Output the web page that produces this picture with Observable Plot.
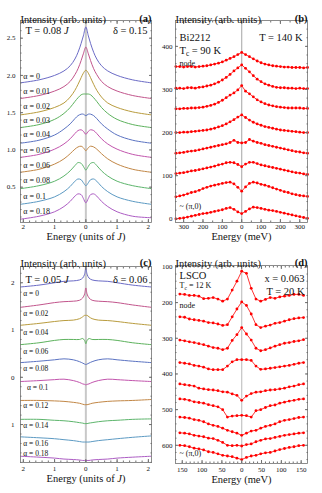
<!DOCTYPE html>
<html><head><meta charset="utf-8">
<script src="https://cdn.jsdelivr.net/npm/d3@7"></script>
<script src="https://cdn.jsdelivr.net/npm/@observablehq/plot@0.6"></script>
<style>
body{margin:0;background:#fff;}
#wrap{position:relative;width:322px;height:493px;overflow:hidden;background:#fff;}
.panel{position:absolute;}
</style></head><body><div id="wrap">
<div class="panel" id="pa" style="left:0;top:0"></div>
<div class="panel" id="pb" style="left:161px;top:0"></div>
<div class="panel" id="pc" style="left:0;top:245px"></div>
<div class="panel" id="pd" style="left:161px;top:245px"></div>
</div>
<script>
// ---------- Panel (a) data ----------
const aEnergy = [-2.1,-1.5,-1,-0.7,-0.5,-0.35,-0.25,-0.15,-0.08,0,0.08,0.15,0.25,0.35,0.5,0.7,1,1.5,2.1];
const aAlphas = ["α = 0","α = 0.01","α = 0.02","α = 0.03","α = 0.04","α = 0.05","α = 0.06","α = 0.08","α = 0.1","α = 0.18"];
const aA000 = [1.90,1.94,2.00,2.06,2.13,2.22,2.31,2.43,2.53,2.65,2.53,2.43,2.31,2.22,2.13,2.06,2.00,1.94,1.90];
const aA001 = [1.69,1.73,1.79,1.85,1.92,2.01,2.09,2.20,2.29,2.38,2.29,2.20,2.09,2.01,1.92,1.85,1.79,1.73,1.69];
const aA002 = [1.47,1.51,1.57,1.63,1.71,1.80,1.88,1.97,2.03,2.07,2.03,1.97,1.88,1.80,1.71,1.63,1.57,1.51,1.47];
const aA003 = [1.30,1.34,1.41,1.49,1.57,1.65,1.70,1.74,1.75,1.75,1.75,1.74,1.70,1.65,1.57,1.49,1.41,1.34,1.30];
const aA004 = [1.09,1.13,1.20,1.28,1.35,1.42,1.46,1.48,1.48,1.46,1.48,1.48,1.46,1.42,1.35,1.28,1.20,1.13,1.09];
const aA005 = [0.90,0.94,1.01,1.08,1.15,1.22,1.26,1.27,1.25,1.21,1.25,1.27,1.26,1.22,1.15,1.08,1.01,0.94,0.90];
const aA006 = [0.70,0.74,0.81,0.88,0.95,1.01,1.04,1.05,1.03,0.99,1.03,1.05,1.04,1.01,0.95,0.88,0.81,0.74,0.70];
const aA008 = [0.48,0.52,0.58,0.65,0.72,0.79,0.83,0.82,0.78,0.73,0.78,0.82,0.83,0.79,0.72,0.65,0.58,0.52,0.48];
const aA010 = [0.27,0.31,0.37,0.44,0.51,0.58,0.61,0.60,0.56,0.52,0.56,0.60,0.61,0.58,0.51,0.44,0.37,0.31,0.27];
const aA018 = [0.07,0.11,0.17,0.24,0.31,0.38,0.41,0.40,0.35,0.29,0.35,0.40,0.41,0.38,0.31,0.24,0.17,0.11,0.09];
const aLabelY = [1.99,1.79,1.59,1.39,1.21,0.99,0.79,0.59,0.37,0.17];
const aYTicks = [0.5,1.0,1.5,2.0,2.5];
const aXTicks = [-2,-1,0,1,2];

// ---------- Panel (b) data ----------
const bEnergy = [-340,-320,-300,-280,-260,-240,-220,-200,-180,-160,-140,-120,-100,-80,-60,-40,-20,0,20,40,60,80,100,120,140,160,180,200,220,240,260,280,300,320,340];
const bNode = [353,353,352,353,353,352,353,354,355,357,359,361,364,368,372,376,381,386,381,376,371,366,362,359,357,355,354,353,352,352,351,351,351,350,351];
const bK2 = [303,303,302,304,304,303,305,306,308,310,313,317,322,328,335,343,350,357,349,341,332,324,318,313,310,307,305,304,304,303,303,302,303,302,302];
const bK3 = [255,255,256,256,257,257,258,259,261,263,266,270,275,281,287,292,299,309,296,290,283,276,271,267,264,262,260,259,258,257,257,257,257,256,256];
const bK4 = [200,200,201,201,202,203,204,205,206,208,210,213,216,220,225,230,236,241,235,229,224,220,217,214,212,210,208,206,205,204,203,202,201,200,200];
const bK5 = [152,153,154,156,157,158,160,162,164,166,168,170,172,174,177,182,177,176,177,184,180,177,175,172,170,168,166,164,162,160,158,156,155,153,152];
const bK6 = [105,106,107,109,111,112,114,116,118,120,122,125,127,130,131,130,126,121,127,131,131,128,125,123,121,119,117,115,113,111,109,107,106,104,103];
const bK7 = [51,53,55,58,61,63,66,70,73,76,78,80,82,84,85,81,73,64,74,82,85,83,80,78,75,72,69,66,63,61,58,56,54,53,52];
const bAnti = [0,1,2,4,6,8,10,12,13,15,17,19,21,24,26,22,16,12,17,23,27,26,24,22,20,19,17,15,13,11,9,7,5,3,1];
const bYTicks = [0,100,200,300,400];
const bXTicks = [-300,-200,-100,0,100,200,300];

// ---------- Panel (c) data ----------
const cEnergy = [-2.1,-1.5,-1,-0.7,-0.4,-0.2,-0.1,-0.04,0,0.04,0.1,0.2,0.4,0.7,1,1.5,2.1];
const cAlphas = ["α = 0","α = 0.02","α = 0.04","α = 0.06","α = 0.08","α = 0.1","α = 0.12","α = 0.14","α = 0.16","α = 0.18"];
const cA000 = [1.91,1.95,2.00,2.03,2.04,2.06,2.10,2.18,2.31,2.18,2.10,2.06,2.04,2.03,2.00,1.95,1.91];
const cA002 = [1.48,1.53,1.58,1.60,1.61,1.63,1.68,1.76,1.89,1.76,1.68,1.63,1.61,1.60,1.58,1.53,1.48];
const cA004 = [1.10,1.14,1.18,1.20,1.21,1.24,1.28,1.31,1.31,1.31,1.28,1.24,1.21,1.20,1.18,1.14,1.10];
const cA006 = [0.69,0.73,0.78,0.80,0.80,0.80,0.82,0.78,0.71,0.78,0.82,0.80,0.80,0.80,0.78,0.73,0.69];
const cA008 = [0.31,0.34,0.37,0.39,0.37,0.33,0.30,0.28,0.27,0.28,0.30,0.33,0.37,0.39,0.37,0.34,0.31];
const cA010 = [-0.09,-0.07,-0.05,-0.04,-0.07,-0.11,-0.14,-0.15,-0.16,-0.15,-0.14,-0.11,-0.07,-0.04,-0.05,-0.07,-0.09];
const cA012 = [-0.49,-0.49,-0.50,-0.51,-0.53,-0.55,-0.57,-0.58,-0.58,-0.58,-0.57,-0.55,-0.53,-0.51,-0.50,-0.49,-0.47];
const cA014 = [-0.89,-0.89,-0.91,-0.92,-0.94,-0.96,-0.97,-0.98,-0.98,-0.98,-0.97,-0.96,-0.94,-0.92,-0.91,-0.89,-0.88];
const cA016 = [-1.26,-1.28,-1.30,-1.32,-1.34,-1.36,-1.37,-1.37,-1.37,-1.37,-1.37,-1.36,-1.34,-1.32,-1.30,-1.27,-1.24];
const cA018 = [-1.67,-1.69,-1.71,-1.73,-1.74,-1.75,-1.76,-1.76,-1.76,-1.76,-1.76,-1.75,-1.74,-1.73,-1.71,-1.69,-1.67];
const cLabelY = [1.78,1.345,0.945,0.534,0.183,-0.227,-0.607,-1.03,-1.40,-1.615];
const cLabelX = [-2.0,-2.0,-2.0,-2.0,-2.0,-1.88,-2.0,-2.0,-2.0,-2.0];
const cYTicks = [-1,0,1,2];
const cXTicks = [-2,-1,0,1,2];

// ---------- Panel (d) data ----------
const dEnergy = [-156,-144,-132,-120,-108,-96,-84,-72,-60,-48,-36,-24,-12,0,12,24,36,48,60,72,84,96,108,120,132,144,156];
const dNode = [176,177,180,180,182,189,188,186,190,196,190,165,140,112,118,160,190,196,191,186,188,184,182,180,177,177,180];
const dK2 = [240,241,246,248,250,252,256,257,260,264,262,240,218,198,208,232,262,270,266,263,258,256,252,248,245,243,242];
const dK3 = [305,307,310,312,315,318,322,326,328,332,328,306,290,270,288,305,328,335,332,327,322,318,314,312,309,307,304];
const dK4 = [368,370,372,376,378,381,386,388,388,388,378,366,360,360,360,362,378,387,386,384,382,380,378,376,373,370,368];
const dK5 = [428,430,432,434,440,442,444,445,447,450,451,456,460,474,462,455,451,450,447,445,444,442,440,436,434,430,428];
const dK6 = [470,471,474,478,480,482,486,489,492,500,521,518,517,516,517,521,503,500,494,489,487,482,479,476,474,471,470];
const dK7 = [521,522,524,528,530,534,540,544,547,552,558,562,566,572,566,560,558,552,547,544,540,534,530,528,525,522,521];
const dK8 = [565,566,568,572,574,576,580,581,586,592,600,601,600,602,598,596,590,586,582,581,578,575,572,570,568,566,565];
const dAnti = [600,601,604,608,610,613,618,620,624,628,630,632,636,640,634,630,628,624,621,620,616,612,609,606,604,601,600];
const dYTicks = [100,200,300,400,500,600];
const dXTicks = [-150,-100,-50,0,50,100,150];

// ---------- helpers ----------
const curveColors = ["#6b6bc6","#c2558c","#b99c3e","#5db25d","#5b73c2","#c255ad","#c28746","#5db56c","#5c9ac3","#ad5dc4"];
function flat(xs, series, keys){
  const out=[];
  series.forEach((s,i)=>s.forEach((v,j)=>out.push({x:xs[j], y:v, k:keys[i]})));
  return out;
}
const FONT = "Liberation Serif, Times New Roman, serif";
const AX = "#707070";
function axes(o){
  return [
    Plot.axisX({anchor:"bottom", ticks:o.xt, tickFormat:o.xf, tickSize:-3, tickPadding:o.xp, label:null, stroke:AX, fill:"#111", fontSize:7}),
    Plot.axisX({anchor:"top", ticks:o.xt, tickSize:-3, label:null, stroke:AX, fill:"none"}),
    Plot.axisX({anchor:"bottom", ticks:o.xm, tickSize:-1.5, label:null, stroke:AX, fill:"none"}),
    Plot.axisX({anchor:"top", ticks:o.xm, tickSize:-1.5, label:null, stroke:AX, fill:"none"}),
    Plot.axisY({anchor:"left", ticks:o.yt, tickFormat:o.yf, tickSize:-3, tickPadding:o.yp, label:null, stroke:AX, fill:"#111", fontSize:7}),
    Plot.axisY({anchor:"right", ticks:o.yt, tickSize:-3, label:null, stroke:AX, fill:"none"}),
    Plot.axisY({anchor:"left", ticks:o.ym, tickSize:-1.5, label:null, stroke:AX, fill:"none"}),
    Plot.axisY({anchor:"right", ticks:o.ym, tickSize:-1.5, label:null, stroke:AX, fill:"none"}),
    Plot.frame({stroke:AX, strokeWidth:0.8})
  ];
}
function titles(letter, xlabel, topDy, botDy){
  return [
    Plot.text(["Intensity (arb. units)"], {frameAnchor:"top-left", textAnchor:"start", dy:topDy, fontSize:10.5}),
    Plot.text([letter], {frameAnchor:"top-right", textAnchor:"end", dy:topDy-1, fontSize:10.5, fontWeight:"bold"}),
    Plot.text([xlabel], {frameAnchor:"bottom", dy:botDy, fontSize:10.5})
  ];
}
const absFmt = d => String(Math.abs(d));
function fixText(svg){
  svg.querySelectorAll("text").forEach(t=>{
    const s = t.textContent;
    if (s === "T = 0.08 J" || s === "T = 0.05 J") t.innerHTML = s.slice(0,-1) + '<tspan font-style="italic">J</tspan>';
    else if (s === "Energy (units of J)") t.innerHTML = 'Energy (units of <tspan font-style="italic">J</tspan>)';
    else if (s.startsWith("Tc = ")) t.innerHTML = 'T<tspan font-size="0.7em" dy="2">c</tspan><tspan dy="-2">' + s.slice(2) + '</tspan>';
  });
  return svg;
}

// ---------- Panel (a) ----------
{
  const series = [aA000,aA001,aA002,aA003,aA004,aA005,aA006,aA008,aA010,aA018];
  const data = flat(aEnergy, series, aAlphas);
  const labels = aAlphas.map((a,i)=>({t:a, y:aLabelY[i]}));
  const p = Plot.plot({
    width:161, height:245, marginLeft:20, marginRight:10, marginTop:20, marginBottom:23,
    style:{fontFamily:FONT, fontSize:"7px", background:"transparent", color:"#111"},
    x:{domain:[-2.09,2.1]}, y:{domain:[0.026,2.737]},
    color:{domain:aAlphas, range:curveColors},
    marks:[
      Plot.ruleX([0], {stroke:"#c8c8c8", strokeWidth:2}),
      Plot.line(data, {x:"x", y:"y", z:"k", stroke:"k", strokeWidth:1, curve:"catmull-rom", clip:true}),
      Plot.text(labels, {x:-2.0, y:"y", text:"t", textAnchor:"start", fontSize:8}),
      Plot.text(["T = 0.08 J"], {frameAnchor:"top-left", textAnchor:"start", dx:5, dy:6, fontSize:10.5}),
      Plot.text(["δ = 0.15"], {frameAnchor:"top-right", textAnchor:"end", dx:-4, dy:6, fontSize:10.5}),
      ...axes({xt:aXTicks, xf:absFmt, xp:5, xm:d3.range(-2,2.01,0.2), yt:aYTicks, yf:d3.format(".1f"), yp:8, ym:d3.range(0.1,2.71,0.1)}),
      ...titles("(a)", "Energy (units of J)", -5, 17)
    ]
  });
  document.getElementById("pa").append(fixText(p));
}

// ---------- Panel (b) ----------
{
  const series = [bNode,bK2,bK3,bK4,bK5,bK6,bK7,bAnti];
  const data = flat(bEnergy, series, series.map((_,i)=>"k"+i));
  const p = Plot.plot({
    width:161, height:245, marginLeft:14, marginRight:15, marginTop:20, marginBottom:23,
    style:{fontFamily:FONT, fontSize:"7px", background:"transparent", color:"#111"},
    x:{domain:[-342,340]}, y:{domain:[-8.6,460]},
    marks:[
      Plot.ruleX([0], {stroke:"#b4b4b4", strokeWidth:1.2}),
      Plot.line(data, {x:"x", y:"y", z:"k", stroke:"#f00", strokeWidth:0.8}),
      Plot.dot(data, {x:"x", y:"y", r:1.4, fill:"#f00", stroke:"none"}),
      Plot.text(["Bi2212"], {frameAnchor:"top-left", textAnchor:"start", dx:4, dy:13, fontSize:10.5}),
      Plot.text(["Tc = 90 K"], {frameAnchor:"top-left", textAnchor:"start", dx:4, dy:26, fontSize:10.5}),
      Plot.text(["node"], {frameAnchor:"top-left", textAnchor:"start", dx:4, dy:40, fontSize:8}),
      Plot.text(["T = 140 K"], {frameAnchor:"top-right", textAnchor:"end", dx:-5, dy:13, fontSize:10.5}),
      Plot.text(["~ (π,0)"], {frameAnchor:"bottom-left", textAnchor:"start", dx:4, dy:-14, fontSize:8}),
      ...axes({xt:bXTicks, xf:absFmt, xp:5, xm:d3.range(-300,301,50), yt:bYTicks, yf:d3.format("d"), yp:6, ym:d3.range(0,451,20)}),
      ...titles("(b)", "Energy (meV)", -5, 17)
    ]
  });
  document.getElementById("pb").append(fixText(p));
}

// ---------- Panel (c) ----------
{
  const series = [cA000,cA002,cA004,cA006,cA008,cA010,cA012,cA014,cA016,cA018];
  const data = flat(cEnergy, series, cAlphas);
  const labels = cAlphas.map((a,i)=>({t:a, x:cLabelX[i], y:cLabelY[i]}));
  const p = Plot.plot({
    width:161, height:248, marginLeft:20, marginRight:10, marginTop:21, marginBottom:31,
    style:{fontFamily:FONT, fontSize:"7px", background:"transparent", color:"#111"},
    x:{domain:[-2.09,2.1]}, y:{domain:[-1.803,2.344]},
    color:{domain:cAlphas, range:curveColors},
    marks:[
      Plot.ruleX([0], {stroke:"#c8c8c8", strokeWidth:2}),
      Plot.line(data, {x:"x", y:"y", z:"k", stroke:"k", strokeWidth:1, curve:"catmull-rom", clip:true}),
      Plot.text(labels, {x:"x", y:"y", text:"t", textAnchor:"start", fontSize:7.5}),
      Plot.text(["T = 0.05 J"], {frameAnchor:"top-left", textAnchor:"start", dx:5, dy:9, fontSize:10.5}),
      Plot.text(["δ = 0.06"], {frameAnchor:"top-right", textAnchor:"end", dx:-4, dy:9, fontSize:10.5}),
      ...axes({xt:cXTicks, xf:absFmt, xp:6.5, xm:d3.range(-2,2.01,0.2), yt:cYTicks, yf:absFmt, yp:9, ym:d3.range(-1.8,2.31,0.2)}),
      ...titles("(c)", "Energy (units of J)", -7, 19)
    ]
  });
  document.getElementById("pc").append(fixText(p));
}

// ---------- Panel (d) ----------
{
  const series = [dNode,dK2,dK3,dK4,dK5,dK6,dK7,dK8,dAnti];
  const data = flat(dEnergy, series, series.map((_,i)=>"k"+i));
  const p = Plot.plot({
    width:161, height:248, marginLeft:14, marginRight:15, marginTop:20, marginBottom:30,
    style:{fontFamily:FONT, fontSize:"7px", background:"transparent", color:"#111"},
    x:{domain:[-167,166]}, y:{domain:[96,651], reverse:true},
    marks:[
      Plot.ruleX([0], {stroke:"#c4c4c4", strokeWidth:1.2}),
      Plot.line(data, {x:"x", y:"y", z:"k", stroke:"#f00", strokeWidth:0.8}),
      Plot.dot(data, {x:"x", y:"y", r:1.4, fill:"#f00", stroke:"none"}),
      Plot.text(["LSCO"], {frameAnchor:"top-left", textAnchor:"start", dx:4, dy:6, fontSize:10.5}),
      Plot.text(["Tc = 12 K"], {frameAnchor:"top-left", textAnchor:"start", dx:4, dy:17, fontSize:8}),
      Plot.text(["node"], {frameAnchor:"top-left", textAnchor:"start", dx:4, dy:37, fontSize:8}),
      Plot.text(["x = 0.063"], {frameAnchor:"top-right", textAnchor:"end", dx:-3, dy:9, fontSize:10.5}),
      Plot.text(["T = 20 K"], {frameAnchor:"top-right", textAnchor:"end", dx:-3, dy:22, fontSize:10.5}),
      Plot.text(["~ (π,0)"], {frameAnchor:"bottom-left", textAnchor:"start", dx:4, dy:-8, fontSize:8}),
      ...axes({xt:dXTicks, xf:absFmt, xp:6.5, xm:d3.range(-150,151,10), yt:dYTicks, yf:d3.format("d"), yp:6, ym:d3.range(100,641,20)}),
      ...titles("(d)", "Energy (meV)", -6, 19)
    ]
  });
  document.getElementById("pd").append(fixText(p));
}
</script></body></html>
